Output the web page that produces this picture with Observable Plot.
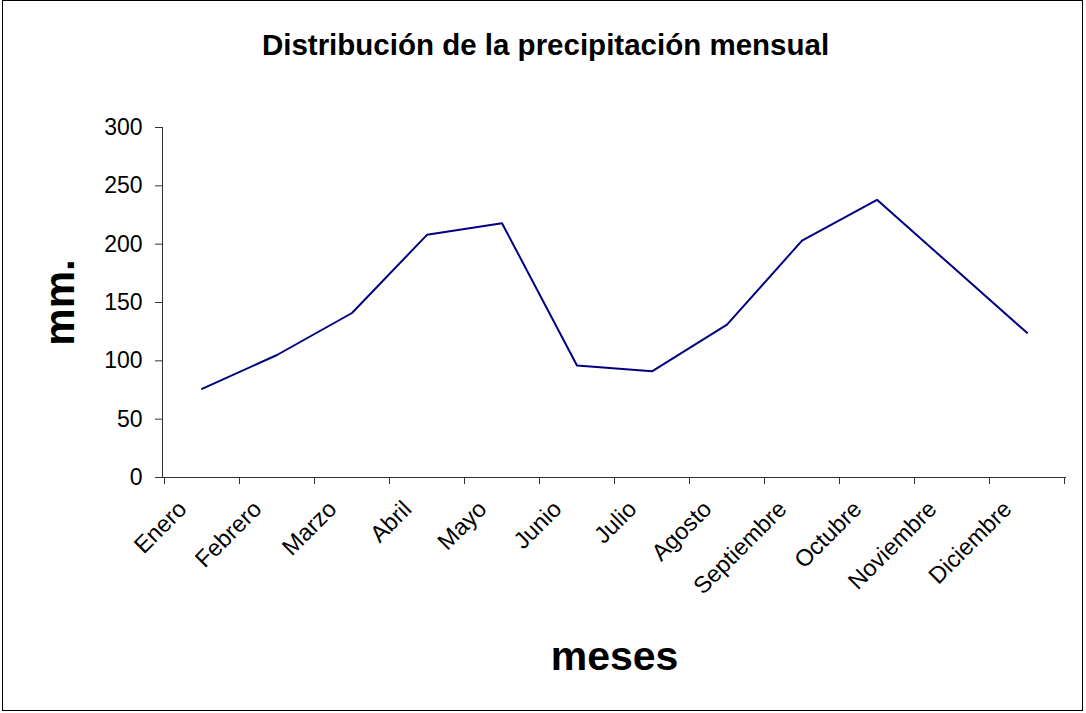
<!DOCTYPE html>
<html>
<head>
<meta charset="utf-8">
<script src="https://cdn.jsdelivr.net/npm/d3@7"></script>
<script src="https://cdn.jsdelivr.net/npm/@observablehq/plot@0.6"></script>
<style>
  html, body { margin: 0; padding: 0; background: #fff; }
  #wrap { position: relative; width: 1086px; height: 713px; overflow: hidden; }
  #border { position: absolute; left: 2px; top: 0px; width: 1079px; height: 709px; border: 1.5px solid #000; pointer-events: none; }
  svg { font-family: "Liberation Sans", Arial, sans-serif; }
</style>
</head>
<body>
<div id="wrap"><div id="border"></div></div>
<script>
const title = "Distribución de la precipitación mensual";
const yLabel = "mm.";
const xLabel = "meses";
const months = ["Enero","Febrero","Marzo","Abril","Mayo","Junio","Julio","Agosto","Septiembre","Octubre","Noviembre","Diciembre"];
const precip = [76, 105, 141, 208, 218, 96, 91, 131, 203, 238, 181, 124];
const yTicks = [0, 50, 100, 150, 200, 250, 300];

const data = months.map((m, i) => ({month: m, value: precip[i]}));

const common = {
  width: 1086,
  height: 713,
  marginLeft: 162,
  marginRight: 20,
  marginTop: 127,
  marginBottom: 236,
  x: {type: "band", domain: months, padding: 0, label: null, axis: null},
  y: {domain: [0, 300], label: null, axis: null}
};

const chart = Plot.plot({
  ...common,
  style: {background: "transparent", fontFamily: "Liberation Sans, Arial, sans-serif", overflow: "visible"},
  marks: [
    // y axis line
    Plot.frame({anchor: "left", stroke: "#333"}),
    Plot.axisY({ticks: yTicks, tickSize: 7, tickPadding: 13, fontSize: 23, label: null, color: "#000", stroke: "#333"}),
    // x axis line
    Plot.ruleY([0], {stroke: "#333", strokeWidth: 1}),
    // month labels
    Plot.text(months, {x: d => d, frameAnchor: "bottom", rotate: -45, textAnchor: "end", fontSize: 23.5, dx: -14, dy: 33, fill: "#000"}),
    // line
    Plot.line(data, {x: "month", y: "value", stroke: "#000080", strokeWidth: 2}),
    // titles
    Plot.text([title], {frameAnchor: "top", dx: -69, dy: -93, fontSize: 29.5, fontWeight: "bold", fill: "#000"}),
    Plot.text([xLabel], {frameAnchor: "bottom", dy: 192, fontSize: 41, fontWeight: "bold", fill: "#000"}),
    Plot.text([yLabel], {frameAnchor: "left", textAnchor: "middle", dx: -102, rotate: -90, fontSize: 42, fontWeight: "bold", fill: "#000"})
  ]
});

// x axis tick marks at band boundaries, positioned with the library's band scale
const xs = chart.scale("x");
const tickSvg = Plot.plot({
  ...common,
  style: {background: "transparent", position: "absolute", left: "0px", top: "0px", overflow: "visible"},
  marks: [
    Plot.ruleX(months, {x: d => d, dx: -xs.bandwidth / 2, y1: 0, y2: 0, insetBottom: -7, stroke: "#333"}),
    Plot.ruleX(months.slice(-1), {x: d => d, dx: xs.bandwidth / 2, y1: 0, y2: 0, insetBottom: -7, stroke: "#333"})
  ]
});
chart.style.position = "absolute";
chart.style.left = "0px";
chart.style.top = "0px";
const wrap = document.getElementById("wrap");
wrap.insertBefore(chart, wrap.firstChild);
wrap.appendChild(tickSvg);
</script>
</body>
</html>
